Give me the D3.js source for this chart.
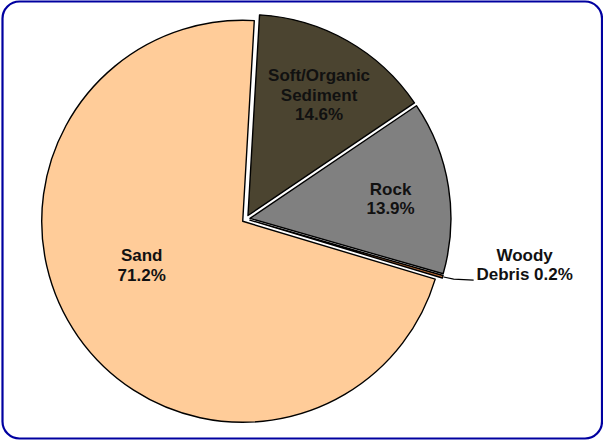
<!DOCTYPE html>
<html>
<head>
<meta charset="utf-8">
<script src="https://cdn.jsdelivr.net/npm/d3@7"></script>
<style>
  html, body { margin: 0; padding: 0; background: #fff; }
  svg { display: block; }
</style>
</head>
<body>
<svg id="chart" width="603" height="440"></svg>
<script>
// ---- data ----
const categories = ["Soft/Organic Sediment", "Rock", "Woody Debris", "Sand"];
const values = [14.6, 13.9, 0.2, 71.2];
const labelLines = [
  ["Soft/Organic", "Sediment", "14.6%"],
  ["Rock", "13.9%"],
  ["Woody", "Debris 0.2%"],
  ["Sand", "71.2%"]
];
const colors = ["#4b4430", "#808080", "#c0703a", "#ffcc99"];

// ---- layout ----
const W = 603, H = 440;
const cx = 246, cy = 219, R = 201, explode = 4;
const startDeg = 3.3;
const font = "'Liberation Sans', Arial, Helvetica, sans-serif";

const svg = d3.select("#chart");

svg.append("rect")
  .attr("x", 2.5).attr("y", 1.5)
  .attr("width", 599.5).attr("height", 437)
  .attr("rx", 17).attr("ry", 17)
  .attr("fill", "#fff")
  .attr("stroke", "#0000a0")
  .attr("stroke-width", 2.2);

const rows = categories.map((c, i) => ({ name: c, value: values[i], lines: labelLines[i], color: colors[i] }));

const pie = d3.pie()
  .sort(null)
  .value(d => d.value)
  .startAngle(startDeg * Math.PI / 180)
  .endAngle(startDeg * Math.PI / 180 + 2 * Math.PI);

const arcs = pie(rows);
const arc = d3.arc().innerRadius(0).outerRadius(R);

const g = svg.append("g").attr("transform", `translate(${cx},${cy})`);

function offset(a) {
  const mid = (a.startAngle + a.endAngle) / 2;
  return [explode * Math.sin(mid), -explode * Math.cos(mid)];
}

g.selectAll("path.slice")
  .data(arcs)
  .join("path")
  .attr("class", "slice")
  .attr("transform", d => { const o = offset(d); return `translate(${o[0]},${o[1]})`; })
  .attr("d", arc)
  .attr("fill", d => d.data.color)
  .attr("stroke", "#000")
  .attr("stroke-width", 1.4)
  .attr("stroke-linejoin", "round");

// label anchor positions (polar, degrees clockwise from north, radius from center)
const labelPolar = [
  { deg: 30.5, r: 144 },
  { deg: 82, r: 146 },
  null,
  { deg: 246.2, r: 114 }
];
const lineH = 19.5;

arcs.forEach((a, i) => {
  const lp = labelPolar[i];
  if (!lp) return;
  const t = lp.deg * Math.PI / 180;
  const x = lp.r * Math.sin(t), y = -lp.r * Math.cos(t);
  const n = a.data.lines.length;
  const text = g.append("text")
    .attr("text-anchor", "middle")
    .attr("font-family", font)
    .attr("font-weight", "bold")
    .attr("font-size", 17)
    .attr("fill", "#111");
  a.data.lines.forEach((ln, k) => {
    text.append("tspan")
      .attr("x", x)
      .attr("y", y + (k - (n - 1) / 2) * lineH + 6)
      .text(ln);
  });
});

// Woody Debris: outside label with leader line
const wood = arcs[2];
const wmid = (wood.startAngle + wood.endAngle) / 2;
const wo = offset(wood);
const p0 = [wo[0] + (R + 1) * Math.sin(wmid), wo[1] - (R + 1) * Math.cos(wmid)];
const p1 = [p0[0] + 30, p0[1] + 3];
g.append("path")
  .attr("d", d3.line()([p0, [p0[0] + 10, p0[1] + 2], p1]))
  .attr("fill", "none")
  .attr("stroke", "#000")
  .attr("stroke-width", 1.2);

const wt = g.append("text")
  .attr("text-anchor", "middle")
  .attr("font-family", font)
  .attr("font-weight", "bold")
  .attr("font-size", 17)
  .attr("fill", "#111");
wood.data.lines.forEach((ln, k) => {
  wt.append("tspan")
    .attr("x", p1[0] + 51)
    .attr("y", p1[1] - 19.3 + k * 19.3)
    .text(ln);
});
</script>
</body>
</html>
